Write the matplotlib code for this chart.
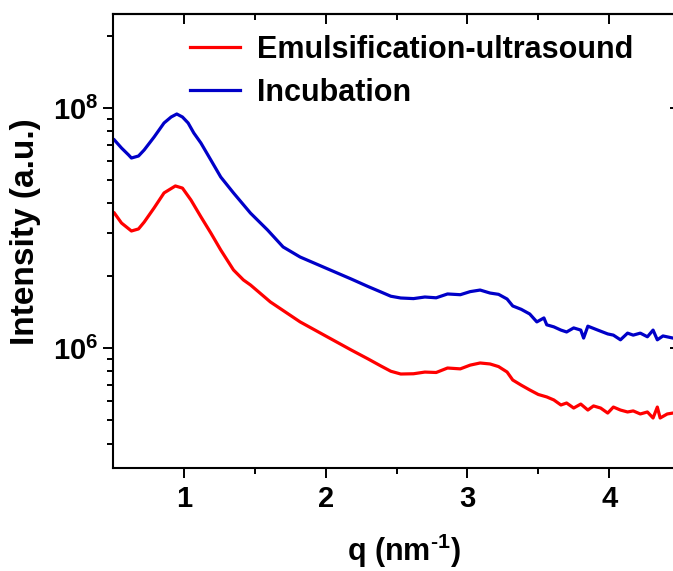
import matplotlib
matplotlib.use("Agg")
import matplotlib.pyplot as plt
from matplotlib.ticker import FixedLocator, NullLocator, NullFormatter

plt.rcParams['font.family'] = ['Liberation Sans', 'DejaVu Sans']
plt.rcParams['font.weight'] = 'bold'
plt.rcParams['mathtext.fontset'] = 'custom'
plt.rcParams['mathtext.rm'] = 'Liberation Sans:bold'
plt.rcParams['mathtext.bf'] = 'Liberation Sans:bold'
plt.rcParams['mathtext.it'] = 'Liberation Sans:bold'

# ---- data ----
q_incubation = [0.51, 0.56, 0.61, 0.63, 0.68, 0.72, 0.79, 0.86, 0.91, 0.95, 0.99, 1.03,
                1.07, 1.12, 1.19, 1.26, 1.35, 1.47, 1.59, 1.70, 1.82, 2.00, 2.18, 2.30,
                2.39, 2.46, 2.53, 2.62, 2.70, 2.78, 2.86, 2.95, 3.02, 3.09, 3.16,
                3.22, 3.28, 3.32, 3.38, 3.44, 3.49, 3.54, 3.56, 3.61, 3.66, 3.70, 3.75, 3.80, 3.82,
                3.85, 3.92, 3.99, 4.03, 4.08, 4.13, 4.17, 4.22, 4.27, 4.31, 4.34, 4.38, 4.45]
I_incubation = [5.41e7, 4.64e7, 4.06e7, 3.83e7, 3.98e7, 4.47e7, 5.73e7, 7.50e7, 8.41e7, 8.91e7,
                8.41e7, 7.50e7, 6.19e7, 5.11e7, 3.69e7, 2.66e7, 1.96e7, 1.33e7, 9.63e6, 6.95e6,
                5.73e6, 4.64e6, 3.76e6, 3.25e6, 2.93e6, 2.70e6, 2.61e6, 2.58e6, 2.66e6, 2.62e6,
                2.82e6, 2.78e6, 2.95e6, 3.04e6, 2.87e6,
                2.80e6, 2.56e6, 2.24e6, 2.10e6, 1.92e6, 1.65e6, 1.78e6, 1.56e6,
                1.50e6, 1.41e6, 1.36e6, 1.47e6, 1.41e6, 1.21e6, 1.52e6, 1.41e6, 1.31e6, 1.28e6,
                1.17e6, 1.33e6, 1.28e6, 1.33e6, 1.24e6, 1.41e6, 1.17e6, 1.26e6, 1.21e6]

q_emulsification = [0.51, 0.56, 0.63, 0.68, 0.72, 0.79, 0.86, 0.94, 0.99, 1.05, 1.12, 1.19,
                    1.26, 1.35, 1.42, 1.47, 1.61, 1.82, 2.00, 2.18, 2.30, 2.39, 2.46, 2.53,
                    2.62, 2.70, 2.78, 2.86, 2.95, 3.02, 3.09, 3.16, 3.22,
                    3.28, 3.32, 3.38, 3.44, 3.50, 3.56, 3.61, 3.66, 3.70, 3.75, 3.80, 3.85, 3.89, 3.94,
                    3.99, 4.03, 4.08, 4.13, 4.17, 4.22, 4.27, 4.31, 4.34, 4.36, 4.41, 4.45]
I_emulsification = [1.33e7, 1.10e7, 9.44e6, 9.82e6, 1.12e7, 1.47e7, 1.96e7, 2.24e7, 2.15e7, 1.71e7,
                    1.24e7, 9.09e6, 6.56e6, 4.47e6, 3.69e6, 3.35e6, 2.42e6, 1.65e6, 1.26e6, 9.63e5,
                    8.10e5, 7.08e5, 6.40e5, 6.07e5, 6.10e5, 6.30e5, 6.25e5, 6.81e5, 6.70e5, 7.20e5,
                    7.50e5, 7.36e5, 7.00e5,
                    6.31e5, 5.41e5, 4.90e5, 4.47e5, 4.10e5, 3.91e5, 3.69e5, 3.35e5,
                    3.48e5, 3.16e5, 3.41e5, 3.04e5, 3.29e5, 3.16e5, 2.87e5, 3.22e5, 3.04e5, 2.93e5,
                    2.99e5, 2.82e5, 2.93e5, 2.61e5, 3.22e5, 2.61e5, 2.82e5, 2.87e5]

labels = ["Emulsification-ultrasound", "Incubation"]
colors = ["#FF0000", "#0000C8"]
x_major = [1, 2, 3, 4]
x_minor = [1.5, 2.5, 3.5]
y_major = [1e6, 1e8]
y_major_labels = [r"$\mathbf{10^{6}}$", r"$\mathbf{10^{8}}$"]
y_minor = [4e8, 8.1e7, 6.4e7, 4.9e7, 3.6e7, 2.5e7, 1.6e7, 9e6, 4e6,
           8.1e5, 6.4e5, 4.9e5, 3.6e5, 2.5e5, 1.6e5]

W, H = 673, 571
fig = plt.figure(figsize=(W / 100, H / 100), dpi=100)
left, right, top, bottom = 113, 680, 14, 468
ax = fig.add_axes([left / W, 1 - bottom / H, (right - left) / W, (bottom - top) / H])

ax.plot(q_emulsification, I_emulsification, color=colors[0], lw=2.3, label=labels[0])
ax.plot(q_incubation, I_incubation, color=colors[1], lw=2.3, label=labels[1])

ax.set_yscale('log')
ax.set_xlim(0.5, 4.5)
ax.set_ylim(1e5, 6.07e8)

ax.xaxis.set_major_locator(FixedLocator(x_major))
ax.xaxis.set_minor_locator(FixedLocator(x_minor))
ax.set_xticklabels([str(v) for v in x_major])
ax.yaxis.set_major_locator(FixedLocator(y_major))
ax.set_yticklabels(y_major_labels)
ax.yaxis.set_minor_locator(FixedLocator(y_minor))
ax.yaxis.set_minor_formatter(NullFormatter())

for s in ax.spines.values():
    s.set_linewidth(1.5)
ax.tick_params(which='major', direction='out', length=7.5, width=1.4, labelsize=21)
ax.tick_params(which='minor', direction='out', length=4.5, width=1.4)
ax.tick_params(axis='x', which='major', pad=5)
ax.tick_params(axis='y', which='major', pad=3)

secx = ax.secondary_xaxis('top')
secx.xaxis.set_major_locator(FixedLocator(x_major))
secx.xaxis.set_minor_locator(FixedLocator(x_minor))
secx.tick_params(which='major', direction='in', length=7.5, width=1.4, labeltop=False)
secx.tick_params(which='minor', direction='in', length=4.2, width=1.4)
secx.xaxis.set_major_formatter(NullFormatter())
secx.spines['top'].set_linewidth(1.5)

secy = ax.secondary_yaxis('right')
secy.yaxis.set_major_locator(FixedLocator(y_major))
secy.yaxis.set_minor_locator(NullLocator())
secy.yaxis.set_major_formatter(NullFormatter())
secy.tick_params(which='major', direction='in', length=7.5, width=1.4, labelright=False)
secy.spines['right'].set_linewidth(1.5)

ax.set_xlabel("q (nm$^{\\mathbf{\u20101}}$)", fontsize=22, fontweight='bold')
ax.set_ylabel("Intensity (a.u.)", fontsize=24, fontweight='bold')
ax.xaxis.set_label_coords((404 - left) / (right - left), -(532 - bottom) / (bottom - top))
ax.yaxis.set_label_coords((41 - left) / (right - left), (bottom - 232) / (bottom - top))

ax.legend(loc='upper left', bbox_to_anchor=(190 / W, 1 - 35 / H), bbox_transform=fig.transFigure,
          frameon=False, fontsize=22, handlelength=1.65, handletextpad=0.55,
          labelspacing=0.42, borderpad=0, borderaxespad=0)

fig.savefig("out.png", dpi=100)
